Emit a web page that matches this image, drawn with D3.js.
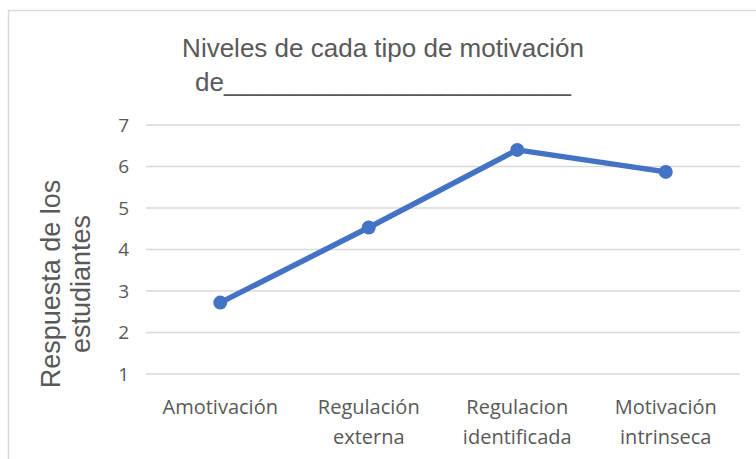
<!DOCTYPE html>
<html>
<head>
<meta charset="utf-8">
<script src="https://cdn.jsdelivr.net/npm/d3@7"></script>
<style>
  body { margin: 0; background: #fff; }
  svg { display: block; }
</style>
</head>
<body>
<svg id="chart" width="756" height="459"></svg>
<script>
var categories = [["Amotivación"], ["Regulación", "externa"], ["Regulacion", "identificada"], ["Motivación", "intrinseca"]];
var values = [2.72, 4.53, 6.4, 5.87];
var yTicks = [1, 2, 3, 4, 5, 6, 7];
var titleLines = ["Niveles de cada tipo de motivación", "de________________________"];
var yTitleLines = ["Respuesta de los", "estudiantes"];

var svg = d3.select("#chart"),
    margin = {top: 125, right: 16, bottom: 85, left: 146},
    width = 756 - margin.left - margin.right,
    height = 459 - margin.top - margin.bottom;

var textColor = "#595959";

// chart frame
svg.append("rect")
  .attr("x", 8.5).attr("y", 10.5)
  .attr("width", 760).attr("height", 460)
  .attr("fill", "none")
  .attr("stroke", "#d9d9d9")
  .attr("stroke-width", 1.5);

var g = svg.append("g").attr("transform", "translate(" + margin.left + "," + margin.top + ")");

var x = d3.scaleBand()
    .domain(categories.map(function(d) { return d.join(" "); }))
    .range([0, 594]);

var y = d3.scaleLinear()
    .domain([1, 7])
    .range([249, 0]);

// gridlines
g.append("g")
  .selectAll("line")
  .data(yTicks)
  .join("line")
    .attr("x1", 0).attr("x2", 594)
    .attr("y1", function(d) { return y(d); })
    .attr("y2", function(d) { return y(d); })
    .attr("stroke", "#d9d9d9")
    .attr("stroke-width", 1.5);

// y axis labels
var yAxis = g.append("g")
  .call(d3.axisLeft(y).tickValues(yTicks).tickSize(0).tickPadding(17).tickFormat(d3.format("d")));
yAxis.select(".domain").remove();
yAxis.selectAll("text")
  .attr("fill", textColor)
  .style("font-family", "'Open Sans', sans-serif")
  .style("font-size", "19px");

// x axis labels
var xAxis = g.append("g")
  .attr("transform", "translate(0," + y(1) + ")")
  .call(d3.axisBottom(x).tickSize(0).tickPadding(0));
xAxis.select(".domain").remove();
xAxis.selectAll("text").remove();
xAxis.selectAll(".tick").each(function(d, i) {
  var t = d3.select(this).append("text")
    .attr("fill", textColor)
    .attr("text-anchor", "middle")
    .style("font-family", "'Open Sans', sans-serif")
    .style("font-size", "20px");
  categories[i].forEach(function(line, j) {
    t.append("tspan").attr("x", 0).attr("y", 40 + j * 30).text(line);
  });
});

var line = d3.line()
  .x(function(d, i) { return x(categories[i].join(" ")) + x.bandwidth() / 2; })
  .y(function(d) { return y(d); });

g.append("path")
  .datum(values)
  .attr("fill", "none")
  .attr("stroke", "#4472c4")
  .attr("stroke-width", 5.5)
  .attr("stroke-linejoin", "round")
  .attr("d", line);

g.selectAll("circle")
  .data(values)
  .join("circle")
    .attr("cx", function(d, i) { return x(categories[i].join(" ")) + x.bandwidth() / 2; })
    .attr("cy", function(d) { return y(d); })
    .attr("r", 7)
    .attr("fill", "#4472c4");

// title
var title = svg.append("text")
  .attr("text-anchor", "middle")
  .attr("fill", textColor)
  .style("font-family", "'Liberation Sans', Arial, sans-serif")
  .style("font-size", "26px");
title.selectAll("tspan")
  .data(titleLines)
  .join("tspan")
    .attr("x", 383)
    .attr("y", function(d, i) { return 57 + i * 34; })
    .text(function(d) { return d; });

// y axis title
var yTitle = svg.append("text")
  .attr("text-anchor", "middle")
  .attr("fill", textColor)
  .attr("transform", "translate(0,284) rotate(-90)")
  .style("font-family", "'Liberation Sans', Arial, sans-serif")
  .style("font-size", "27px");
yTitle.selectAll("tspan")
  .data(yTitleLines)
  .join("tspan")
    .attr("x", 0)
    .attr("y", function(d, i) { return 60 + i * 30; })
    .text(function(d) { return d; });
</script>
</body>
</html>
